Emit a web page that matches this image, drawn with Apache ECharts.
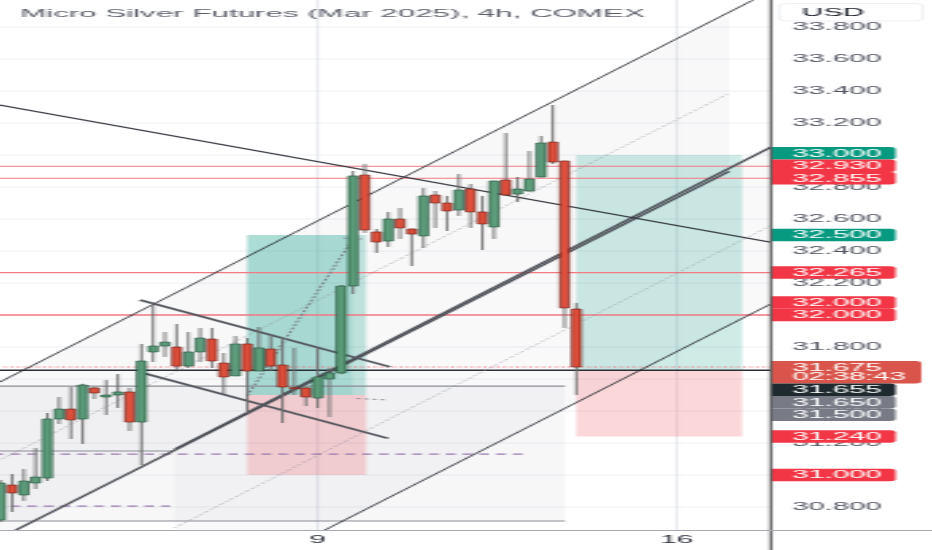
<!DOCTYPE html>
<html><head><meta charset="utf-8">
<script src="https://cdn.jsdelivr.net/npm/echarts@6/dist/echarts.min.js"></script>
<style>
html,body{margin:0;padding:0;background:#fff;overflow:hidden;width:932px;height:550px;}
#chart{width:345px;height:550px;transform:scaleX(2.701449);transform-origin:0 0;}
</style></head><body><div id="chart"></div>
<script>
// ---- candle data (4h bars, index = bar number) ----
const opens  = [30.719,30.9375,30.875,30.95,30.981,31.35,31.4125,31.35,31.544,31.4875,31.5,31.519,31.331,31.769,31.806,31.8,31.681,31.769,31.85,31.7,31.619,31.819,31.65,31.7875,31.6875,31.546,31.544,31.481,31.6,31.6375,32.181,32.875,32.519,32.4625,32.6,32.5375,32.494,32.75,32.7,32.656,32.7875,32.644,32.55,32.844,32.756,32.775,32.8625,33.081,32.9625,32.0375];
const closes = [30.95,30.8875,30.9625,30.9875,31.35,31.4125,31.344,31.5625,31.5125,31.5,31.519,31.331,31.7125,31.806,31.831,31.681,31.769,31.856,31.7125,31.6125,31.819,31.65,31.794,31.681,31.55,31.544,31.4875,31.6125,31.6375,32.181,32.869,32.531,32.456,32.6,32.544,32.506,32.744,32.7,32.65,32.781,32.644,32.569,32.8375,32.75,32.7875,32.85,33.075,32.956,32.044,31.675];
const lows   = [30.706,30.769,30.8375,30.9125,30.9625,31.319,31.225,31.194,31.475,31.375,31.419,31.275,31.0625,31.706,31.7375,31.656,31.669,31.706,31.669,31.506,31.619,31.3875,31.65,31.65,31.325,31.5,31.431,31.419,31.3625,31.63,32.131,32.5125,32.3875,32.425,32.475,32.306,32.419,32.544,32.525,32.619,32.544,32.406,32.475,32.748,32.706,32.77,32.86,32.944,31.919,31.5];
const highs  = [30.969,31.006,31.0375,31.169,31.3875,31.4875,31.55,31.57,31.55,31.594,31.631,31.544,31.819,32.075,31.894,31.944,31.894,31.919,31.919,31.7625,31.869,31.856,31.925,31.875,31.856,31.794,31.55,31.794,31.669,32.1875,32.9,32.944,32.5375,32.644,32.669,32.54,32.794,32.775,32.744,32.881,32.819,32.744,32.84,33.1375,32.8625,33.025,33.119,33.3125,32.965,32.075];

// ---- axes ----
const dayTickIdx = [27, 57.55];
const dayLabels  = ['9', '16'];
const priceTicks = [30.8,31.0,31.2,31.4,31.6,31.8,32.0,32.2,32.4,32.6,32.8,33.0,33.2,33.4,33.6,33.8];
const X_MIN = -0.0255, X_MAX = 65.47, Y_MIN = 30.65625, Y_MAX = 33.96875;

// ---- drawings (bar index, price) ----
const redLevels   = [32.930, 32.855, 32.265, 32.000, 32.000];
const blackLevel  = 31.655;
const lastPrice   = 31.675;
const countdown   = '02:38:43';
const ch1Upper    = [[-2, 31.508], [62, 33.873]];
const ch1UpperExt = [[-2, 31.508], [64, 33.967]];
const ch1Width    = 0.975;
const ch2Upper    = [[14.86, 31.161], [70, 33.215]];
const ch2Width    = 0.98;
const trendLine   = [[-2, 33.338], [66, 32.449]];
const wedgeUpper  = [[11.88, 32.094], [33.15, 31.676]];
const wedgeLower  = [[12.14, 31.6375], [32.98, 31.229]];
const projLine    = [[20.99, 31.494], [30.17, 32.494]];
const projTicks   = [[[29.2, 32.48], [30.8, 32.475]], [[30.3, 31.478], [32.7, 31.47]]];
const longLeft    = [21, 31.1, 32.5, 31.5, 31.0];   // from, to, target, entry, stop
const longLeftLit = 29.92;
const longRight   = [49, 63.1, 33.0, 31.65, 31.24];
const grayBox     = [-2, 48.04, 31.556, 30.7125];
const grayShort   = [[-2, 31.15], [14.69, 31.15]];
const dashLevels  = [[-2, 44.64, 31.131], [-2, 14.44, 30.806]];

const badgeValues = [33.0, 32.93, 32.855, 32.5, 32.265, 32.0, 32.0, 31.675, 31.655, 31.65, 31.5, 31.24, 31.0];
const badgeKinds  = ['green','red','red','green','red','red','red','price','black','gray','gray','red','red'];

// ---- helpers ----
const FONT = '"Liberation Sans", Arial, sans-serif';
const XL = -3, XR = 72;
function clipOf(params){ const c = params.coordSys; return {type:'rect', shape:{x:c.x, y:c.y, width:c.width, height:c.height}}; }
function offset(seg, d){ return seg.map(p => [p[0], p[1] + d]); }

function segSeries(segs, style, z){
  return {
    type:'custom', coordinateSystem:'cartesian2d', silent:true, z:z, clip:true, animation:false,
    data: segs.map(s => [s[0][0], s[0][1]]),
    renderItem: function(params, api){
      const s = segs[params.dataIndex];
      const a = api.coord(s[0]), b = api.coord(s[1]);
      return {type:'line', shape:{x1:a[0], y1:a[1], x2:b[0], y2:b[1]},
        style:Object.assign({fill:null}, style), clipPath: clipOf(params)};
    }
  };
}
function polySeries(polys, fills, z){
  return {
    type:'custom', coordinateSystem:'cartesian2d', silent:true, z:z, clip:true, animation:false,
    data: polys.map(p => [p[0][0], p[0][1]]),
    renderItem: function(params, api){
      const pts = polys[params.dataIndex].map(p => api.coord(p));
      return {type:'polygon', shape:{points:pts}, style:{fill:fills[params.dataIndex]}, clipPath: clipOf(params)};
    }
  };
}
function rectPoly(x1, x2, y1, y2){ return [[x1,y1],[x2,y1],[x2,y2],[x1,y2]]; }
function chanPoly(up, w){ return [up[0], up[1], [up[1][0], up[1][1]-w], [up[0][0], up[0][1]-w]]; }

const ch1Lower = offset(ch1Upper, -ch1Width);
const ch1Mid   = offset(ch1Upper, -ch1Width/2);
const ch2Mid   = offset(ch2Upper, -ch2Width/2);
const ch2Lower = offset(ch2Upper, -ch2Width);

const polys = [
  chanPoly(ch1Upper, ch1Width),
  chanPoly(ch2Upper, ch2Width),
  rectPoly(grayBox[0], grayBox[1], grayBox[2], grayBox[3]),
  rectPoly(longLeft[0], longLeft[1], longLeft[2], longLeft[3]),
  rectPoly(longLeft[0], longLeftLit, longLeft[2], longLeft[3]),
  rectPoly(longLeft[0], longLeft[1], longLeft[3], longLeft[4]),
  rectPoly(longRight[0], longRight[1], longRight[2], longRight[3]),
  rectPoly(longRight[0], longRight[1], longRight[3], longRight[4])
];
const polyFills = [
  'rgba(120,123,140,0.055)','rgba(120,123,140,0.045)','rgba(120,123,140,0.06)',
  'rgba(8,153,129,0.24)','rgba(8,153,129,0.12)','rgba(242,54,69,0.20)',
  'rgba(8,153,129,0.20)','rgba(242,54,69,0.20)'
];

// grid lines
const gridH = priceTicks.map(v => [[XL, v], [XR, v]]);
const gridV = dayTickIdx.map(i => [[i, Y_MIN - 1], [i, Y_MAX + 1]]);

// candles
const candleData = opens.map((o, k) => [k, o, closes[k], lows[k], highs[k]]);
function renderCandle(params, api){
  const i = api.value(0), o = api.value(1), c = api.value(2), l = api.value(3), h = api.value(4);
  const pO = api.coord([i, o]), pC = api.coord([i, c]), pL = api.coord([i, l]), pH = api.coord([i, h]);
  const w = api.size([1, 0])[0] * 0.77;
  const up = c >= o;
  const top = Math.min(pO[1], pC[1]), bot = Math.max(pO[1], pC[1]);
  const x = pO[0];
  return {type:'group', children:[
    {type:'line', shape:{x1:x, y1:pH[1], x2:x, y2:pL[1]}, style:{stroke:'#6a6a6a', lineWidth:0.85}},
    {type:'rect', shape:{x:x - w/2, y:top, width:w, height:Math.max(bot - top, 1.2)},
      style:{fill: up ? '#5c9c7a' : '#df4f3b', stroke: up ? '#1d4f37' : '#6a1c14', lineWidth:0.6}}
  ]};
}

// badges
const badgeColors = {green:'#089981', red:'#f23645', price:'#d9544a', black:'#1e2a2e', gray:'#787b86'};
function layoutBadges(api){
  const ys = badgeValues.map(v => api.coord([X_MAX, v])[1]);
  const pIdx = badgeKinds.indexOf('price');
  const H = 12.5, res = ys.slice();
  const py = ys[pIdx];
  const above = [], below = [];
  ys.forEach((y, k) => { if (k === pIdx) return; (badgeValues[k] >= lastPrice ? above : below).push(k); });
  above.sort((a, b) => ys[b] - ys[a]);
  let lim = py - 6;
  above.forEach(k => { const c = Math.min(ys[k], lim - H/2); res[k] = c; lim = c - H/2; });
  below.sort((a, b) => ys[a] - ys[b]);
  lim = py + 16.5;
  below.forEach(k => { const c = Math.max(ys[k], lim + H/2); res[k] = c; lim = c + H/2; });
  return res;
}
function badgeText(x, y, t){
  return {type:'text', style:{x:x, y:y, text:t, fill:'#ffffff', fontSize:10.8, fontFamily:FONT, align:'left', verticalAlign:'middle'}};
}
function renderBadge(params, api){
  const k = params.dataIndex;
  const ys = layoutBadges(api);
  const x0 = api.coord([X_MAX, badgeValues[k]])[0] + 0.5;
  const kind = badgeKinds[k], cy = ys[k];
  if (kind === 'price') {
    return {type:'group', children:[
      {type:'rect', shape:{x:x0, y:cy - 6, width:55.5, height:22.5, r:[0,2,2,0]}, style:{fill:badgeColors.price}},
      badgeText(x0 + 7.8, cy + 0.8, badgeValues[k].toFixed(3)),
      badgeText(x0 + 7.8, cy + 10.3, countdown)
    ]};
  }
  return {type:'group', children:[
    {type:'rect', shape:{x:x0, y:cy - 6.25, width:46, height:12.5, r:[0,2,2,0]}, style:{fill:badgeColors[kind]}},
    badgeText(x0 + 7.8, cy + 0.5, badgeValues[k].toFixed(3))
  ]};
}

const series = [
  segSeries(gridH, {stroke:'#eef0f4', lineWidth:1}, 1),
  segSeries(gridV, {stroke:'#e4e6eb', lineWidth:0.8}, 1),
  polySeries(polys, polyFills, 2),
  // horizontal levels
  segSeries([[[grayBox[0], grayBox[2]], [grayBox[1], grayBox[2]]], [[grayBox[0], grayBox[3]], [grayBox[1], grayBox[3]]], grayShort],
            {stroke:'#8a8d96', lineWidth:1.2}, 3),
  segSeries(dashLevels.map(d => [[d[0], d[2]], [d[1], d[2]]]), {stroke:'#9a7aae', lineWidth:1.2, lineDash:[3.6, 2.6]}, 3),
  segSeries(redLevels.map(v => [[XL, v], [XR, v]]), {stroke:'#f27a83', lineWidth:1.1}, 3),
  segSeries([[[XL, blackLevel], [XR, blackLevel]]], {stroke:'#2b2f36', lineWidth:1.6}, 3),
  segSeries([[[XL, lastPrice], [XR, lastPrice]]], {stroke:'#f0707a', lineWidth:1, lineDash:[1, 1.4]}, 3),
  // channels and trend lines
  segSeries([ch1UpperExt, ch2Lower], {stroke:'#25282e', lineWidth:0.85}, 4),
  segSeries([ch1Mid, ch2Mid], {stroke:'#8c8f9a', lineWidth:0.9, lineDash:[0.6, 1.4]}, 4),
  segSeries([ch1Lower, ch2Upper], {stroke:'#4b4e55', lineWidth:1.3}, 4),
  segSeries([trendLine], {stroke:'#33363d', lineWidth:1.1}, 4),
  segSeries([wedgeUpper, wedgeLower], {stroke:'#55585f', lineWidth:1.7}, 4),
  segSeries([projLine], {stroke:'#7b7e87', lineWidth:1, lineDash:[2, 1.6]}, 4),
  segSeries(projTicks, {stroke:'#8e8296', lineWidth:1, lineDash:[1.4, 1.6]}, 4),
  {type:'custom', coordinateSystem:'cartesian2d', silent:true, z:10, animation:false,
   encode:{x:0, y:[1,2,3,4]}, data:candleData, renderItem:renderCandle},
  {type:'custom', coordinateSystem:'cartesian2d', silent:true, z:20, clip:false, animation:false,
   data: badgeValues.map(v => [X_MAX, v]), renderItem:renderBadge}
];

const chart = echarts.init(document.getElementById('chart'), null, {renderer:'canvas'});
chart.setOption({
  animation:false,
  backgroundColor:'#ffffff',
  title:{text:'Micro Silver Futures (Mar 2025), 4h, COMEX', left:7.4, top:7.5, padding:0,
         textStyle:{fontSize:11.6, fontWeight:'normal', color:'#5d606b', fontFamily:FONT}},
  grid:{left:0, top:0, width:285, height:530, containLabel:false},
  xAxis:{type:'value', min:X_MIN, max:X_MAX, axisLine:{show:false}, axisTick:{show:false}, splitLine:{show:false},
         axisLabel:{customValues:dayTickIdx, margin:4, fontSize:11, color:'#2a2e39', fontFamily:FONT,
                    formatter:function(v){ const k = dayTickIdx.indexOf(v); return k >= 0 ? dayLabels[k] : ''; }}},
  yAxis:{type:'value', position:'right', min:Y_MIN, max:Y_MAX, axisLine:{show:false}, axisTick:{show:false}, splitLine:{show:false},
         axisLabel:{customValues:priceTicks, margin:8.2, fontSize:10.8, color:'#50535e', fontFamily:FONT, align:'left',
                    formatter:function(v){ return v.toFixed(3); }}},
  graphic:[
    {type:'line', silent:true, z:50, shape:{x1:285.3, y1:0, x2:285.3, y2:550}, style:{stroke:'#4a4a4a', lineWidth:1}},
    {type:'line', silent:true, z:50, shape:{x1:0, y1:530.5, x2:345, y2:530.5}, style:{stroke:'#a8abb3', lineWidth:1}},
    {type:'rect', silent:true, z:50, shape:{x:288.3, y:3.5, width:53.3, height:17.5, r:3}, style:{fill:'#ffffff', stroke:'#e6e8ec', lineWidth:0.6}},
    {type:'text', silent:true, z:51, style:{x:296.8, y:12.5, text:'USD', fill:'#131722', fontSize:11, fontFamily:FONT, verticalAlign:'middle'}}
  ],
  series: series
});
</script></body></html>
